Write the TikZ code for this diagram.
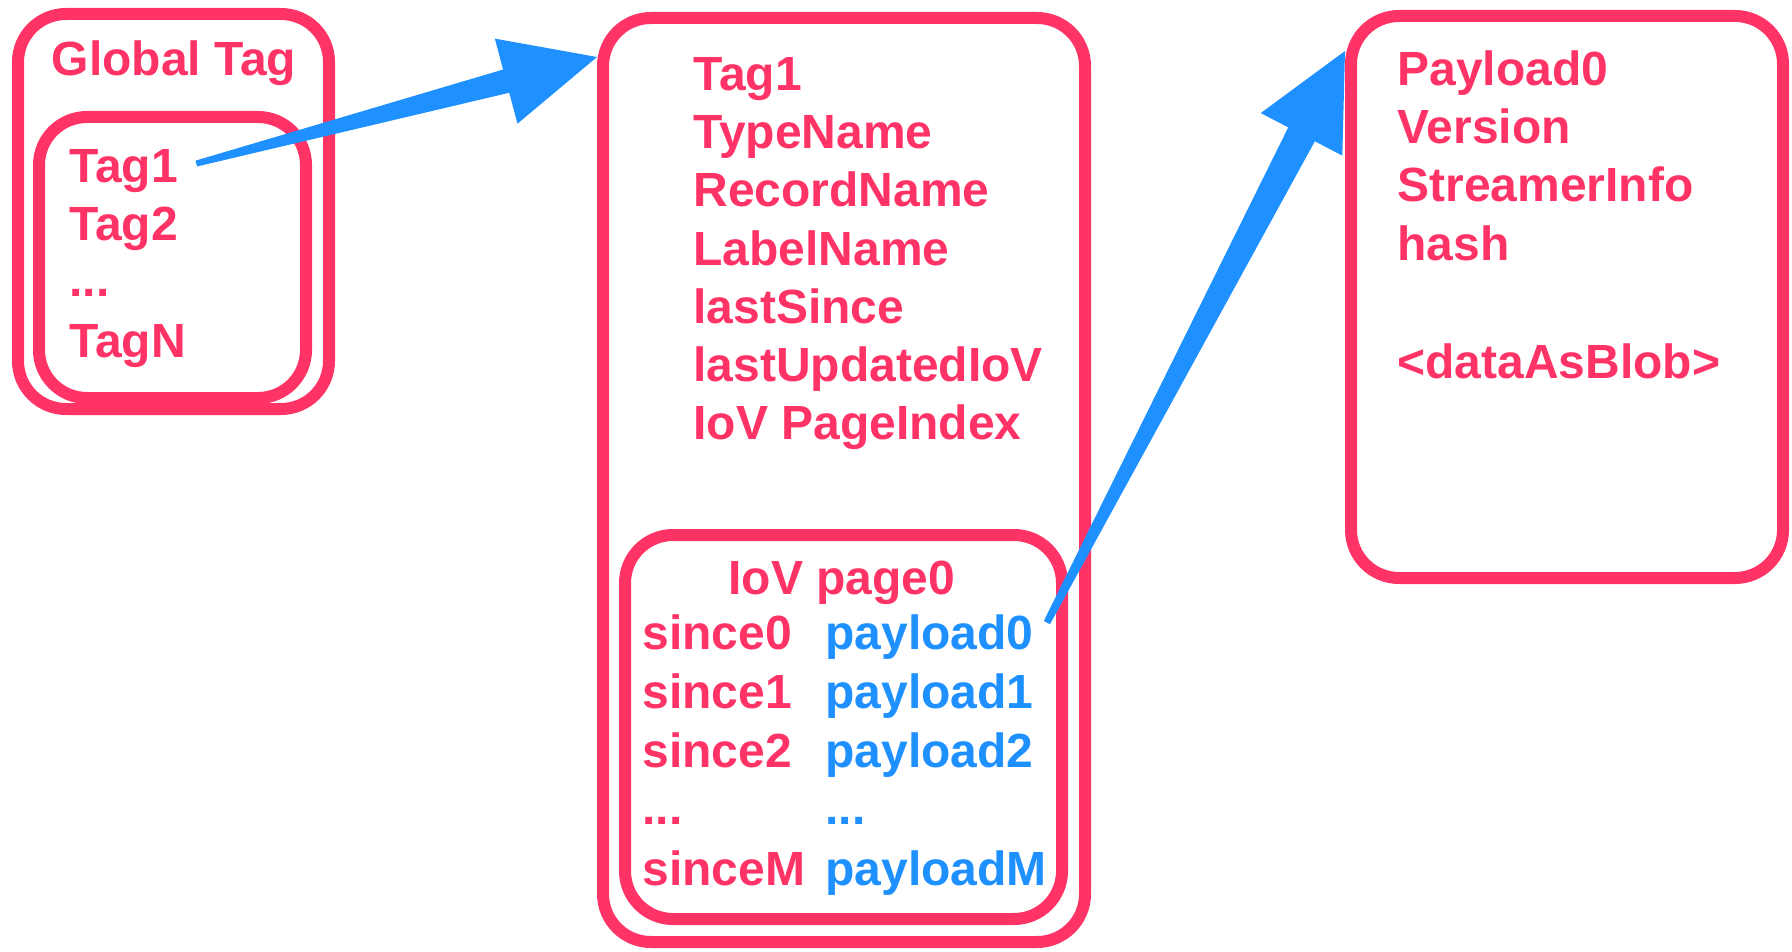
\documentclass[tikz,border=0pt]{standalone}
\usepackage{fontspec}
\setmainfont{Liberation Sans}
\usetikzlibrary{calc,fit}
\definecolor{tagpink}{RGB}{255,51,102}
\definecolor{linkblue}{RGB}{30,144,255}
\tikzset{
  frame/.style={draw=tagpink,line width=6pt,rounded corners=24pt,inner sep=0pt},
  lbl/.style={text=tagpink,font=\fontsize{24}{29}\selectfont\bfseries,inner sep=1pt,anchor=base west},
  plbl/.style={lbl,text=linkblue}
}
% tail, tip, tail half width, shaft half width at head, head length, head half width
\newcommand{\fatarrow}[6]{%
  \coordinate (fa-h) at ($(#2)!#5!(#1)$);
  \fill[linkblue] ($(#1)!#3!90:(#2)$) -- ($(fa-h)!#4!90:(#2)$) -- ($(fa-h)!#6!90:(#2)$)
    -- (#2) -- ($(fa-h)!#6!-90:(#2)$) -- ($(fa-h)!#4!-90:(#2)$) -- ($(#1)!#3!-90:(#2)$) -- cycle;
}
\begin{document}
\begin{tikzpicture}[x=0.5pt,y=-0.5pt,line cap=round,line join=round]
  \useasboundingbox (0,0) rectangle (1792,952);
  \node[frame,fit={(18,14) (329,409)}] (gtag) {};
  \node[frame,fit={(39,117) (306,398)}] (taglist) {};
  \node[frame,fit={(603,18) (1085,942)}] (tagbox) {};
  \node[frame,fit={(625,535) (1062,919)}] (iovpage) {};
  \node[frame,fit={(1351,16) (1783,578)}] (payload) {};

  \node[lbl,anchor=base] (gtitle) at (174,76) {Global Tag};
  \node[lbl] (tagA) at (67,183) {Tag1};
  \node[lbl] (tagB) at (67,241) {Tag2};
  \node[lbl] (tagdots) at (67,296) {...};
  \node[lbl] (tagN) at (67,357) {TagN};

  \foreach \t [count=\i] in {Tag1,TypeName,RecordName,LabelName,lastSince,lastUpdatedIoV,IoV PageIndex}
    \node[lbl] (field\i) at (691,{33+58*\i}) {\t};

  \node[lbl,anchor=base] (pagetitle) at (842,594) {IoV page0};
  \node[lbl] (sinceA) at (640,649) {since0};
  \node[plbl] (payA) at (823,649) {payload0};
  \node[lbl] (sinceB) at (640,708) {since1};
  \node[plbl] (payB) at (823,708) {payload1};
  \node[lbl] (sinceC) at (640,767) {since2};
  \node[plbl] (payC) at (823,767) {payload2};
  \node[lbl] (sincedots) at (640,824) {...};
  \node[plbl] (paydots) at (823,824) {...};
  \node[lbl] (sinceM) at (640,885) {sinceM};
  \node[plbl] (payM) at (823,885) {payloadM};

  \node[lbl] (pname) at (1395,86) {Payload0};
  \node[lbl] (pversion) at (1395,144) {Version};
  \node[lbl] (pstreamer) at (1395,202) {StreamerInfo};
  \node[lbl] (phash) at (1395,260) {hash};
  \node[lbl] (pblob) at (1395,378) {<dataAsBlob>};

  \coordinate (tailA) at ([xshift=8pt,yshift=4pt]tagA.east);
  \coordinate (tipA) at ([yshift=-22.5pt]tagbox.north west);
  \fatarrow{tailA}{tipA}{1.5pt}{6pt}{47pt}{22pt}
  \coordinate (tailB) at ([xshift=5.5pt,yshift=7pt]payA.east);
  \coordinate (tipB) at ([yshift=-20.5pt]payload.north west);
  \fatarrow{tailB}{tipB}{1.75pt}{7.5pt}{47pt}{23pt}
\end{tikzpicture}
\end{document}
